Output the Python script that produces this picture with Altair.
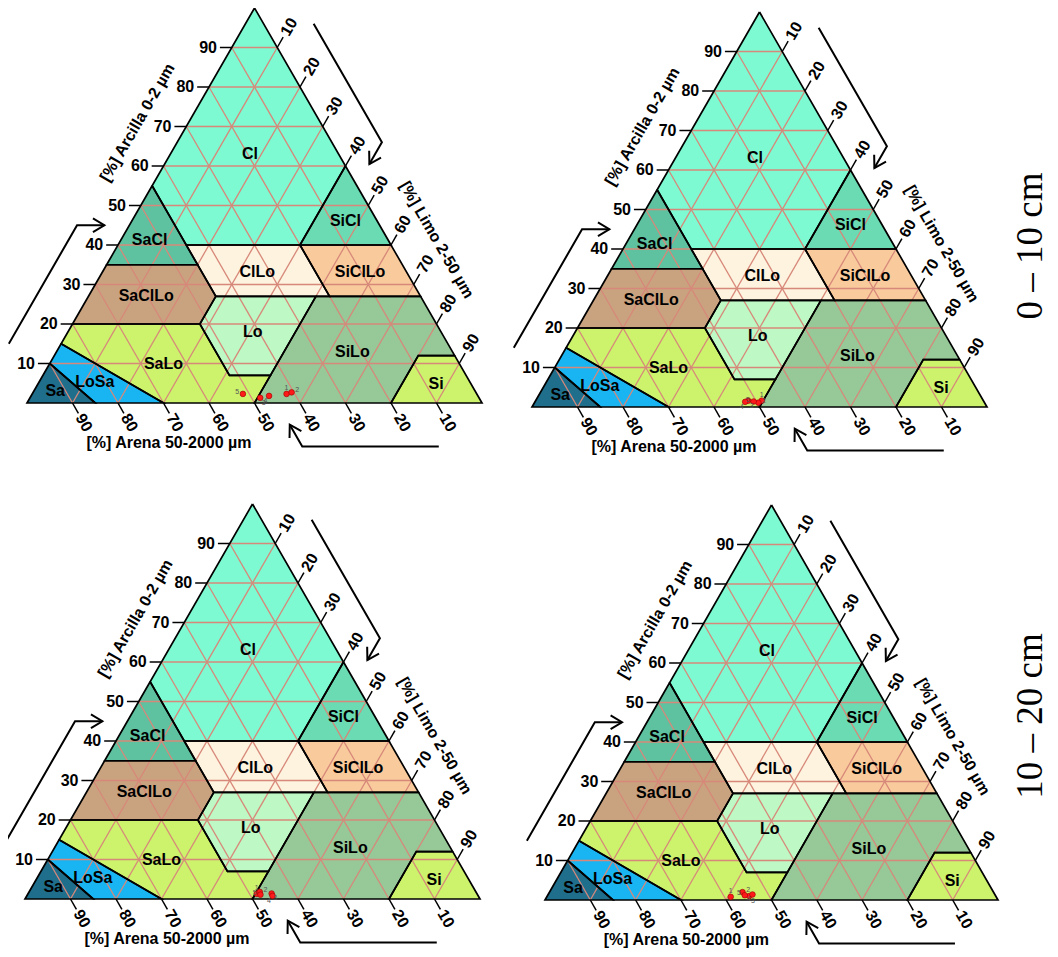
import altair as alt
import pandas as pd

# ---------------- data ----------------
panel_names = ["TL", "TR", "BL", "BR"]

# USDA texture classes, polygon vertices as % clay and % silt (sand = rest)
class_names = ["Cl", "SiCl", "SaCl", "ClLo", "SiClLo", "SaClLo", "Lo", "SiLo", "Si", "SaLo", "LoSa", "Sa"]
class_clay = [
    [100, 60, 40, 40, 55],
    [60, 40, 40],
    [55, 35, 35],
    [40, 40, 27, 27],
    [40, 40, 27, 27],
    [35, 35, 27, 20, 20],
    [27, 27, 7, 7, 20],
    [27, 27, 12, 12, 0, 0, 7],
    [12, 0, 0, 12],
    [20, 20, 7, 7, 0, 0, 15],
    [15, 0, 0, 10],
    [10, 0, 0],
]
class_silt = [
    [0, 40, 40, 15, 0],
    [40, 60, 40],
    [0, 0, 20],
    [15, 40, 53, 28],
    [40, 60, 73, 53],
    [0, 20, 28, 28, 0],
    [28, 50, 50, 41, 28],
    [50, 73, 88, 80, 80, 50, 50],
    [88, 100, 80, 80],
    [0, 28, 41, 50, 50, 30, 0],
    [0, 30, 15, 0],
    [0, 15, 0],
]
class_colors = ["#7dfad2", "#6adbb3", "#5ec2a0", "#fdf3de", "#f9cb9c", "#c9a37f",
                "#bef8c4", "#96c898", "#cdf36c", "#cdf36c", "#18b5f2", "#1f6e8c"]
# class label anchors (clay, silt)
label_clay = [63, 46, 41.3, 33.2, 33.2, 27, 18, 13, 4.8, 10, 5.4, 3]
label_silt = [17.5, 47, 6.3, 34, 56.6, 12.7, 40.6, 65, 87.5, 25, 12.2, 4.7]

# axis ticks
tick_values = [10, 20, 30, 40, 50, 60, 70, 80, 90]

# samples (clay %, silt %) per panel
sample_ids = ["1", "2", "3", "4", "5"]
sample_clay = {
    "TL": [2.3, 2.7, 1.3, 1.8, 2.3],
    "TR": [1.6, 1.1, 1.6, 1.3, 1.4],
    "BL": [1.3, 1.8, 1.4, 0.8, 1.1],
    "BR": [0.8, 2.0, 1.0, 1.4, 1.2],
}
sample_silt = {
    "TL": [55.9, 56.8, 50.6, 52.3, 46.3],
    "TR": [49.7, 49.2, 46.7, 46.2, 48.0],
    "BL": [50.3, 50.7, 53.5, 54.0, 51.2],
    "BR": [40.6, 42.6, 44.6, 45.1, 43.5],
}

title_clay = "[%] Arcilla 0-2 \u00b5m"
title_silt = "[%] Limo 2-50 \u00b5m"
title_sand = "[%] Arena 50-2000 \u00b5m"
depth_labels = ["0 \u2013 10 cm", "10 \u2013 20 cm"]

# ---------------- layout ----------------
layout = pd.DataFrame({
    "panel": panel_names,
    "x0": [27, 532, 25, 545],
    "y0": [403, 407, 899, 900],
    "w": [455, 455, 455, 453],
    "h": [395, 395, 395, 395],
})
FONT = "Liberation Sans"
GRID = "#d7887a"
TL_ = 2.6   # tick length (% units)

PX = "datum.x0 + datum.w * (datum.silt + datum.clay / 2) / 100"
PY = "datum.y0 - datum.h * datum.clay / 100"
PX2 = "datum.x0 + datum.w * (datum.silt2 + datum.clay2 / 2) / 100"
PY2 = "datum.y0 - datum.h * datum.clay2 / 100"

xs = alt.Scale(domain=[8, 1050], nice=False, zero=False)
ys = alt.Scale(domain=[8, 949], nice=False, zero=False, reverse=True)
X = alt.X("px:Q", scale=xs, axis=None)
Y = alt.Y("py:Q", scale=ys, axis=None)


def cross(df):
    return df.merge(layout, how="cross")


# polygons
rows = []
for name, cl, si in zip(class_names, class_clay, class_silt):
    pts = list(zip(cl, si)) + [(cl[0], si[0])]
    for i, (c, s) in enumerate(pts):
        rows.append({"cls": name, "i": i, "clay": c, "silt": s})
poly = cross(pd.DataFrame(rows))
poly["key"] = poly["panel"] + "_" + poly["cls"]

fills = alt.Chart(poly).mark_line(strokeWidth=0, strokeOpacity=0).transform_calculate(
    px=PX, py=PY).encode(
    x=X, y=Y,
    fill=alt.Fill("cls:N", scale=alt.Scale(domain=class_names, range=class_colors), legend=None),
    detail="key:N", order="i:Q")

bounds = alt.Chart(poly).mark_line(color="black", strokeWidth=1.7).transform_calculate(
    px=PX, py=PY).encode(x=X, y=Y, detail="key:N", order="i:Q")

# grid + ticks
g = []
t = []
lab = []
for v in tick_values:
    # clay = v (horizontal)
    g.append({"clay": v, "silt": 0, "clay2": v, "silt2": 100 - v})
    t.append({"clay": v, "silt": 0, "clay2": v, "silt2": -TL_})
    lab.append({"clay": v, "silt": -5.2, "txt": str(v), "ang": 0})
    # silt = v
    g.append({"clay": 0, "silt": v, "clay2": 100 - v, "silt2": v})
    t.append({"clay": 100 - v, "silt": v, "clay2": 100 - v + TL_, "silt2": v})
    lab.append({"clay": 100 - v + 5.2, "silt": v, "txt": str(v), "ang": 300})
    # sand = v
    g.append({"clay": 0, "silt": 100 - v, "clay2": 100 - v, "silt2": 0})
    t.append({"clay": 0, "silt": 100 - v, "clay2": -TL_, "silt2": 100 - v + TL_})
    lab.append({"clay": -5.0, "silt": 100 - v + 5.0, "txt": str(v), "ang": 60})

grid = alt.Chart(cross(pd.DataFrame(g))).mark_rule(color=GRID, strokeWidth=1.3).transform_calculate(
    px=PX, py=PY, px2=PX2, py2=PY2).encode(x=X, y=Y, x2="px2:Q", y2="py2:Q")
ticks = alt.Chart(cross(pd.DataFrame(t))).mark_rule(color="black", strokeWidth=1.5).transform_calculate(
    px=PX, py=PY, px2=PX2, py2=PY2).encode(x=X, y=Y, x2="px2:Q", y2="py2:Q")

tick_labels = alt.Chart(cross(pd.DataFrame(lab))).mark_text(
    font=FONT, fontSize=16, fontWeight="bold", align="center", baseline="middle", color="black"
).transform_calculate(px=PX, py=PY).encode(
    x=X, y=Y, text="txt:N", angle=alt.Angle("ang:Q", scale=None))

titles_df = cross(pd.DataFrame({
    "txt": [title_clay, title_silt, title_sand],
    "clay": [71, 41.3, -10.2],
    "silt": [-11.2, 69.4, 36.3],
    "ang": [300, 60, 0],
}))
titles = alt.Chart(titles_df).mark_text(
    font=FONT, fontSize=16, fontWeight="bold", align="center", baseline="middle", color="black"
).transform_calculate(px=PX, py=PY).encode(
    x=X, y=Y, text="txt:N", angle=alt.Angle("ang:Q", scale=None))

class_lab = alt.Chart(cross(pd.DataFrame({"txt": class_names, "clay": label_clay, "silt": label_silt}))).mark_text(
    font=FONT, fontSize=16, fontWeight="bold", align="center", baseline="middle", color="black"
).transform_calculate(px=PX, py=PY).encode(x=X, y=Y, text="txt:N")

# arrows (clay, silt), in % units outside the triangle
arrow_rows = []
arrow_defs = {
    "clay": [(15, -11.5), (45, -11.5), (45, -5.5)],
    "silt": [(96, 15), (66, 45), (60.5, 45)],
    "sand": [(-11, 96), (-11, 66), (-5.5, 60.5)],
}
head_angle = {"clay": 0, "silt": 120, "sand": 240}
heads = []
for k, pts in arrow_defs.items():
    for i, (c, s) in enumerate(pts):
        arrow_rows.append({"arr": k, "i": i, "clay": c, "silt": s})
    heads.append({"arr": k, "clay": pts[-1][0], "silt": pts[-1][1], "ang": head_angle[k]})
arr = cross(pd.DataFrame(arrow_rows))
arr["key"] = arr["panel"] + "_" + arr["arr"]
arrows = alt.Chart(arr).mark_line(color="black", strokeWidth=2).transform_calculate(
    px=PX, py=PY).encode(x=X, y=Y, detail="key:N", order="i:Q")
arrowheads = alt.Chart(cross(pd.DataFrame(heads))).mark_point(
    shape="M -1 -0.6 L 0 0 L -1 0.6", filled=False, color="black", strokeWidth=2, size=520, opacity=1
).transform_calculate(px=PX, py=PY).encode(x=X, y=Y, angle=alt.Angle("ang:Q", scale=None))

# samples
srows = []
for p in panel_names:
    for sid, c, s in zip(sample_ids, sample_clay[p], sample_silt[p]):
        srows.append({"panel": p, "sid": sid, "clay": c, "silt": s})
samp = pd.DataFrame(srows).merge(layout, on="panel")
points = alt.Chart(samp).mark_point(
    filled=True, fill="#ff1a1a", stroke="#990000", strokeWidth=0.6, size=32, opacity=1, shape="circle"
).transform_calculate(px=PX, py=PY).encode(x=X, y=Y)
# labels fanned around their point so close samples stay readable
point_labels = alt.Chart(samp).mark_text(
    font=FONT, fontSize=7, color="#555555", align="center", baseline="middle"
).transform_calculate(
    px=PX, py=PY, a="(-90 + 72 * (toNumber(datum.sid) - 1)) * PI / 180"
).transform_calculate(
    pxl="datum.px + 6 * cos(datum.a)", pyl="datum.py + 6 * sin(datum.a)"
).encode(x=alt.X("pxl:Q", scale=xs, axis=None), y=alt.Y("pyl:Q", scale=ys, axis=None), text="sid:N")

# depth labels
depth = alt.Chart(pd.DataFrame({"txt": depth_labels, "px": [1031, 1031], "py": [246, 716]})).mark_text(
    font="Liberation Serif", fontSize=37, angle=270, align="center", baseline="middle", color="black"
).encode(x=X, y=Y, text="txt:N")

chart = alt.layer(
    fills, grid, bounds, ticks, tick_labels, titles, class_lab, arrows, arrowheads,
    points, point_labels, depth
).properties(
    width=1042, height=941, padding=0, autosize=alt.AutoSizeParams(type="none"), background="white"
).configure_view(strokeWidth=0)

chart.save("out.html", embed_options={"renderer": "svg", "actions": False})
